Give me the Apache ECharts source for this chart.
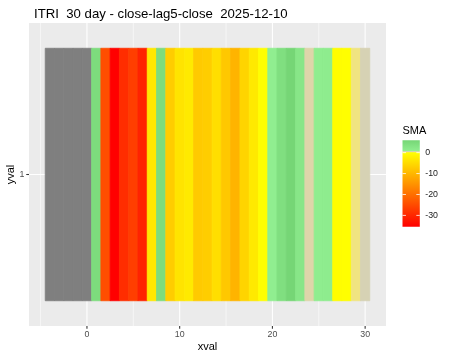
<!DOCTYPE html>
<html><head><meta charset="utf-8">
<script src="https://cdn.jsdelivr.net/npm/echarts@6/dist/echarts.min.js"></script>
<style>html,body{margin:0;padding:0;background:#fff}#c{width:450px;height:360px}</style>
</head><body><div id="c"></div>
<script>
// ---- data ----
const titleText = 'ITRI  30 day - close-lag5-close  2025-12-10';
const xval = [-4,-3,-2,-1,0,1,2,3,4,5,6,7,8,9,10,11,12,13,14,15,16,17,18,19,20,21,22,23,24,25,26,27,28,29,30];
const yval = 1;
const sma = [null,null,null,null,null,
  4.5,-24.6,-35.4,-29.2,-26.8,-30.5,-3.2,4.5,-7.0,-3.7,
  -2.9,-7.4,-7.0,-4.6,-7.6,-10.4,-6.0,-3.1,-0.1,0.9,
  4.0,5.9,2.4,0.42,1.0,1.2,-0.2,-0.1,0.2,0.5];
const xTicks = [0,10,20,30];
const xMinorTicks = [-5,5,15,25];
const yTicks = [1];
const legendTicks = [0,-10,-20,-30];
const legendTitle = 'SMA';

// ---- scales ----
const FONT = '"Liberation Sans", Arial, sans-serif';
const xLoData = Math.min(...xval) - 0.5, xHiData = Math.max(...xval) + 0.5;
const xPad = (xHiData - xLoData) * 0.05;
const xLo = xLoData - xPad, xHi = xHiData + xPad;
const yLo = yval - 0.6, yHi = yval + 0.6;
const vals = sma.filter(v => v !== null);
const vMin = Math.min(...vals), vMax = Math.max(...vals);
const stops = [[vMin,[255,0,0]],[0,[255,255,0]],[0.2,[240,228,130]],[0.5,[216,208,184]],[0.8,[144,238,144]],[vMax,[118,214,118]]];
function colorAt(v){
  for (let i=0;i<stops.length-1;i++){
    const [a,ca]=stops[i],[b,cb]=stops[i+1];
    if (v<=b || i===stops.length-2){
      const t=Math.max(0,Math.min(1,(v-a)/(b-a)));
      const c=ca.map((q,k)=>Math.round(q+(cb[k]-q)*t));
      return 'rgb('+c.join(',')+')';
    }
  }
}
const N=900, ramp=[];
for(let i=0;i<N;i++) ramp.push(colorAt(vMin+(vMax-vMin)*i/(N-1)));

const tileData = [], naData = [];
xval.forEach((x,i)=>{ if(sma[i]===null) naData.push([x,yval]); else tileData.push([x,yval,sma[i]]); });

function tileRender(fixed){
  return function(params, api){
    const x=api.value(0), y=api.value(1);
    const p1=api.coord([x-0.5,y+0.5]), p2=api.coord([x+0.5,y-0.5]);
    const c = fixed || api.visual('color');
    return {type:'rect', shape:{x:p1[0],y:p1[1],width:p2[0]-p1[0],height:p2[1]-p1[1]}, style:{fill:c,stroke:c,lineWidth:0.8}};
  };
}
function vLine(w){
  return function(params, api){
    const cs=params.coordSys; const px=api.coord([api.value(0),yval])[0];
    return {type:'line', shape:{x1:px,y1:cs.y,x2:px,y2:cs.y+cs.height}, style:{stroke:'#fff',lineWidth:w}};
  };
}
function hLine(w){
  return function(params, api){
    const cs=params.coordSys; const py=api.coord([0,api.value(1)])[1];
    return {type:'line', shape:{x1:cs.x,y1:py,x2:cs.x+cs.width,y2:py}, style:{stroke:'#fff',lineWidth:w}};
  };
}
const TICK = 2.75;
function xTickRender(params, api){
  const cs=params.coordSys; const px=api.coord([api.value(0),yval])[0]; const y0=cs.y+cs.height;
  return {type:'line', shape:{x1:px,y1:y0,x2:px,y2:y0+TICK}, style:{stroke:'#333',lineWidth:1.07}};
}
function yTickRender(params, api){
  const cs=params.coordSys; const py=api.coord([0,api.value(1)])[1];
  return {type:'line', shape:{x1:cs.x-TICK,y1:py,x2:cs.x,y2:py}, style:{stroke:'#333',lineWidth:1.07}};
}

// ---- legend (colour bar) ----
const bar = {x:402.5, y:140.3, w:17.3, h:86.4};
const vy = v => bar.y + (vMax - v)/(vMax - vMin)*bar.h;
const gradStops = stops.map(([v,c])=>({offset:(vMax-v)/(vMax-vMin), color:'rgb('+c.join(',')+')'})).sort((a,b)=>a.offset-b.offset);
const legendEls = [
  {type:'text', left:bar.x, top:125, style:{text:legendTitle, font:'11px '+FONT, fill:'#000'}},
  {type:'rect', shape:{x:bar.x,y:bar.y,width:bar.w,height:bar.h}, style:{fill:new echarts.graphic.LinearGradient(0,0,0,1,gradStops)}}
];
legendTicks.forEach(t=>{
  const y=vy(t);
  legendEls.push({type:'line', shape:{x1:bar.x,y1:y,x2:bar.x+bar.w/5,y2:y}, style:{stroke:'#fff',lineWidth:0.8}});
  legendEls.push({type:'line', shape:{x1:bar.x+bar.w*4/5,y1:y,x2:bar.x+bar.w,y2:y}, style:{stroke:'#fff',lineWidth:0.8}});
  legendEls.push({type:'text', x:bar.x+bar.w+5.5, y:y, style:{text:String(t), font:'8.8px '+FONT, fill:'#1a1a1a', textVerticalAlign:'middle', verticalAlign:'middle'}});
});

const axisCommon = {
  nameLocation:'middle', nameMoveOverlap:false,
  nameTextStyle:{fontFamily:FONT, fontSize:11, color:'#000'},
  axisLine:{show:false, onZero:false}, splitLine:{show:false}, axisTick:{show:false}
};
const chart = echarts.init(document.getElementById('c'), null, {renderer:'canvas'});
chart.setOption({
  animation:false,
  backgroundColor:'#fff',
  title:{text:titleText, left:29, top:3, textStyle:{fontFamily:FONT, fontSize:13.2, fontWeight:'normal', color:'#000'}},
  grid:{left:29, top:23, width:357, height:303, show:true, backgroundColor:'#EBEBEB', borderWidth:0, containLabel:false, outerBoundsMode:'none'},
  xAxis:Object.assign({type:'value', min:xLo, max:xHi, name:'xval', nameGap:15,
    axisLabel:{customValues:xTicks, color:'#4D4D4D', fontSize:8.8, fontFamily:FONT, margin:4.5}}, axisCommon),
  yAxis:Object.assign({type:'value', min:yLo, max:yHi, name:'yval', nameGap:13,
    axisLabel:{customValues:yTicks, color:'#4D4D4D', fontSize:8.8, fontFamily:FONT, margin:4.5}}, axisCommon),
  visualMap:{type:'continuous', show:false, seriesIndex:4, dimension:2, min:vMin, max:vMax, inRange:{color:ramp}},
  series:[
    {type:'custom', silent:true, renderItem:vLine(0.55), data:xMinorTicks.map(v=>[v,yval]), encode:{x:0,y:1}},
    {type:'custom', silent:true, renderItem:vLine(1.07), data:xTicks.map(v=>[v,yval]), encode:{x:0,y:1}},
    {type:'custom', silent:true, renderItem:hLine(1.07), data:yTicks.map(v=>[0,v]), encode:{x:0,y:1}},
    {type:'custom', silent:true, renderItem:tileRender('#7F7F7F'), data:naData, encode:{x:0,y:1}},
    {type:'custom', silent:true, renderItem:tileRender(null), data:tileData, encode:{x:0,y:1}},
    {type:'custom', silent:true, clip:false, renderItem:xTickRender, data:xTicks.map(v=>[v,yval]), encode:{x:0,y:1}},
    {type:'custom', silent:true, clip:false, renderItem:yTickRender, data:yTicks.map(v=>[0,v]), encode:{x:0,y:1}}
  ],
  graphic:legendEls
});
</script></body></html>
